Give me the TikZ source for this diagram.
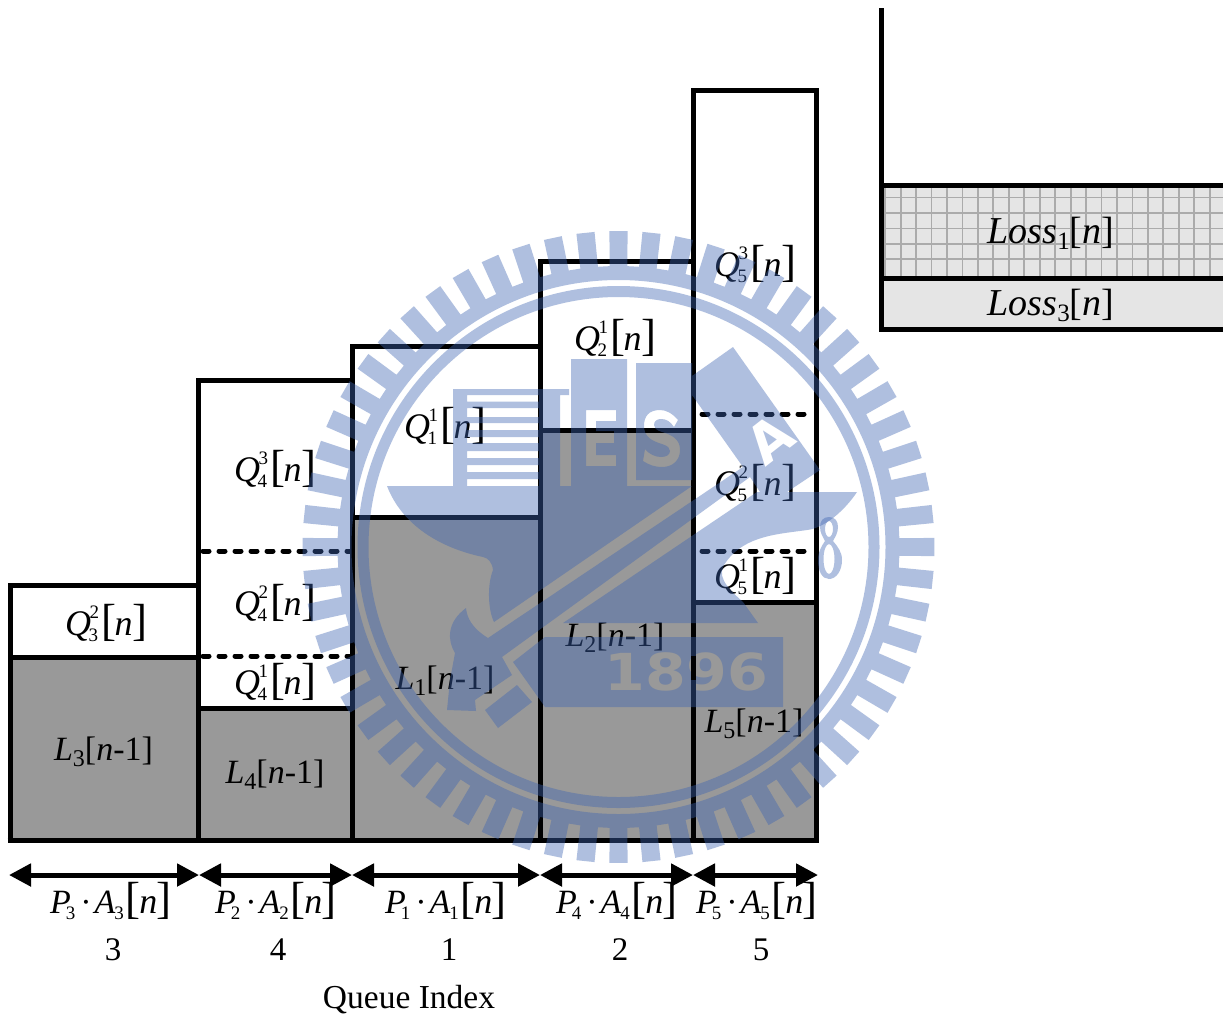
\documentclass[tikz,border=0pt]{standalone}
\usepackage{fontspec}
\setmainfont{Liberation Serif}
\newfontfamily\wmfont{DejaVu Sans}
\usetikzlibrary{arrows.meta}
\definecolor{barfill}{HTML}{999999}
\definecolor{lossfill}{HTML}{E5E5E5}
\definecolor{gridc}{HTML}{ABABAB}
\definecolor{sealc}{RGB}{61,100,178}
\definecolor{navy}{RGB}{25,41,73}
\newcommand\fsz[1]{\fontsize{#1}{#1}\selectfont}
\newcommand\brk[1]{{\fsz{45}\upshape #1}}
\newcommand\nbr{\kern3pt\brk{[}\kern-1.5pt{\fsz{36}\itshape n}\kern-.5pt\brk{]}}
\newcommand\qlab[2]{{\fsz{36}\itshape Q}\kern-2.5pt\rlap{\kern1pt\raisebox{17pt}{\fsz{19}\upshape #1}}\raisebox{-6pt}{\fsz{19}\upshape #2}}
\newcommand\plab[4]{{\fsz{34}\itshape #1}\kern-5pt\raisebox{-6pt}{\fsz{19}\upshape #2}\kern5pt{\fsz{34}\textperiodcentered}\kern3pt{\fsz{34}\itshape #3}\kern-1pt\raisebox{-6pt}{\fsz{19}\upshape #4}\kern-1pt\nbr}
\newcommand\llab[1]{{\fsz{34}\itshape L}\raisebox{-6pt}{\fsz{24}#1}{\fsz{34}[\textit{n}-1]}}
\newcommand\losslab[1]{{\fsz{38}\itshape Loss}\raisebox{-6pt}{\fsz{25}#1}{\fsz{38}[\textit{n}]}}
\tikzset{
  heavy/.style={line width=5pt,line cap=butt,line join=miter},
  dashline/.style={line width=5pt,line cap=round,dash pattern=on 6pt off 10pt},
  barbox/.style={fill=barfill,draw=none},
  lbl/.style={anchor=base,inner sep=0pt,outer sep=0pt},
  span/.style={line width=5pt,{Triangle[length=22pt,width=22pt]}-{Triangle[length=22pt,width=22pt]},shorten <=0pt,shorten >=0pt},
  seal/.style={fill=sealc,opacity=.41,draw=none},
}
\begin{document}
\begin{tikzpicture}[x=1pt,y=-1pt]
\useasboundingbox (0,0) rectangle (1223,1018);
\fill[white] (0,0) rectangle (1223,1018);
% gray bars
\fill[barbox] (10,657) rectangle (198,840);
\fill[barbox] (198,708) rectangle (352,840);
\fill[barbox] (352,517) rectangle (540,840);
\fill[barbox] (540,430) rectangle (693,840);
\fill[barbox] (693,602) rectangle (816,840);
% loss bucket
\fill[lossfill] (881,185) rectangle (1223,329);
\foreach \gx in {0,...,21} \draw[gridc,line width=1.8pt] ({885.2+15.45*\gx},185) -- ({885.2+15.45*\gx},278);
\foreach \gy in {0,...,4} \draw[gridc,line width=1.8pt] (881,{197.5+15.45*\gy}) -- (1223,{197.5+15.45*\gy});
% bar outlines
\draw[heavy] (10,840) -- (10,585) -- (198,585);
\draw[heavy] (10,657) -- (198,657);
\draw[heavy] (198,840) -- (198,380) -- (352,380);
\draw[heavy] (198,708) -- (352,708);
\draw[heavy] (352,840) -- (352,346) -- (540,346);
\draw[heavy] (352,517) -- (540,517);
\draw[heavy] (540,840) -- (540,261) -- (693,261);
\draw[heavy] (540,430) -- (693,430);
\draw[heavy] (693,840) -- (693,90) -- (816,90) -- (816,842.5);
\draw[heavy] (693,602) -- (816,602);
\draw[heavy] (7.5,840) -- (818.5,840);
\draw[dashline] (203,551) -- (350,551);
\draw[dashline] (203,656) -- (350,656);
\draw[dashline] (702,414) -- (813,414);
\draw[dashline] (702,551) -- (813,551);
\draw[heavy] (881,8) -- (881,329) -- (1223,329);
\draw[heavy] (881,185) -- (1223,185);
\draw[heavy] (881,278) -- (1223,278);
% spans
\coordinate (t0) at (9,875); \coordinate (t1) at (199,875); \coordinate (t2) at (352,875);
\coordinate (t3) at (540,875); \coordinate (t4) at (693,875); \coordinate (t5) at (818,875);
\draw[span] (t0) -- (t1); \draw[span] (t1) -- (t2); \draw[span] (t2) -- (t3);
\draw[span] (t3) -- (t4); \draw[span] (t4) -- (t5);
% labels
\node[lbl] (q32) at (106,635) {\qlab{2}{3}\nbr};
\node[lbl] (q43) at (275,481) {\qlab{3}{4}\nbr};
\node[lbl] (q42) at (275,615) {\qlab{2}{4}\nbr};
\node[lbl] (q41) at (275,694) {\qlab{1}{4}\nbr};
\node[lbl] (q11) at (445,438) {\qlab{1}{1}\nbr};
\node[lbl] (q21) at (615,350) {\qlab{1}{2}\nbr};
\node[lbl] (q53) at (755,276) {\qlab{3}{5}\nbr};
\node[lbl] (q52) at (755,495) {\qlab{2}{5}\nbr};
\node[lbl] (q51) at (755,588) {\qlab{1}{5}\nbr};
\node[lbl] (l3) at (103.5,760) {\llab{3}};
\node[lbl] (l4) at (275,783) {\llab{4}};
\node[lbl] (l1) at (445,689) {\llab{1}};
\node[lbl] (l2) at (615,646) {\llab{2}};
\node[lbl] (l5) at (754,732) {\llab{5}};
\node[lbl] (ls1) at (1051,243) {\losslab{1}};
\node[lbl] (ls3) at (1051,315) {\losslab{3}};
\node[lbl] (p3) at (111,913) {\plab{P}{3}{A}{3}};
\node[lbl] (p2) at (276,913) {\plab{P}{2}{A}{2}};
\node[lbl] (p1) at (446,913) {\plab{P}{1}{A}{1}};
\node[lbl] (p4) at (617,913) {\plab{P}{4}{A}{4}};
\node[lbl] (p5) at (757,913) {\plab{P}{5}{A}{5}};
\node[lbl] (i3) at (113,960) {\fsz{33}3};
\node[lbl] (i4) at (278,960) {\fsz{33}4};
\node[lbl] (i1) at (449,960) {\fsz{33}1};
\node[lbl] (i2) at (620,960) {\fsz{33}2};
\node[lbl] (i5) at (761,960) {\fsz{33}5};
\node[lbl] (qi) at (409,1008.5) {\fsz{33.5}Queue Index};
% watermark seal: one even-odd path
\fill[seal,even odd rule]
  ({618.5+281*cos(-1.8)},{547+281*sin(-1.8)})
  \foreach \a in {0,6,...,354} {
    -- ({618.5+281*cos(\a-1.8)},{547+281*sin(\a-1.8)})
    -- ({618.5+316*cos(\a-1.65)},{547+316*sin(\a-1.65)})
    -- ({618.5+316*cos(\a+1.65)},{547+316*sin(\a+1.65)})
    -- ({618.5+281*cos(\a+1.8)},{547+281*sin(\a+1.8)})
  } -- cycle
  (618.5,547) circle (267)
  (618.5,547) circle (261)
  (618.5,547) circle (250)
  % anvil top
  (387,486) -- (692,486) -- (494,622)
    .. controls (488,610) and (487,585) .. (493,570)
    .. controls (492,562) and (488,558) .. (483,557)
    .. controls (440,548) and (402,525) .. (387,486) -- cycle
  % T and stripes
  (453,389) -- (569,389) -- (569,395) -- (560,395) -- (560,486) -- (453,486) -- cycle
  (467,395) rectangle (539,401.7)
  (467,408) rectangle (539,417)
  (467,423) rectangle (539,430)
  (467,437) rectangle (539,443)
  (467,451) rectangle (539,458)
  (467,465) rectangle (539,472)
  (467,479) rectangle (539,486)
  % E block with E
  (571,359) rectangle (627,486)
  (586,410) -- (616,410) -- (616,421) -- (596,421) -- (596,431) -- (614,431) -- (614,443) -- (596,443) -- (596,455) -- (616,455) -- (616,466) -- (586,466) -- cycle
  % S block with S
  (636,363) rectangle (692,480)
  (678,420) .. controls (672,413) and (666,410) .. (660,410)
    .. controls (649,410) and (644,416) .. (644,426)
    .. controls (644,437) and (652,441) .. (662,444)
    .. controls (668,446) and (670,448) .. (670,451)
    .. controls (670,455) and (666,457) .. (661,457)
    .. controls (655,457) and (649,454) .. (645,449)
    -- (643,461)
    .. controls (649,465) and (655,467) .. (662,467)
    .. controls (673,467) and (680,460) .. (680,450)
    .. controls (680,439) and (672,435) .. (662,432)
    .. controls (656,430) and (654,428) .. (654,425)
    .. controls (654,421) and (657,419) .. (661,419)
    .. controls (666,419) and (670,421) .. (674,427) -- cycle
  % hammer, shaft and blade
  (466,608) .. controls (467,618) and (472,628) .. (488,638)
    -- (743,467) -- (692,395) -- (692,376) -- (733,347) -- (820,470) -- (787,492) -- (760,492) -- (750,477)
    -- (502,657) -- (512,675) -- (475,700) -- (476,711) -- (447,710) -- (450,680) -- (455,653)
    .. controls (447,640) and (447,622) .. (466,608) -- cycle
  (517,685) -- (532,702) -- (498,728) -- (485,710) -- cycle
  % anvil lower body
  (563,623) -- (757,492) -- (857,492)
    .. controls (845,510) and (825,528) .. (807,530)
    .. controls (780,534) and (745,535) .. (726,562)
    .. controls (716,575) and (725,586) .. (743,602)
    -- (758,623) -- cycle
  % plate
  (545,637) -- (783,637) -- (783,707) -- (545,707) -- (513,662) -- cycle;
% figure eight
\fill[seal,even odd rule]
  (829,517) .. controls (835,517) and (838,521) .. (838,527)
    .. controls (838,533) and (835,537) .. (833,541)
    .. controls (838,547) and (842,552) .. (842,560)
    .. controls (842,571) and (836,579) .. (829,579)
    .. controls (822,579) and (818,571) .. (818,560)
    .. controls (818,552) and (821,547) .. (825,541)
    .. controls (823,537) and (820,533) .. (820,527)
    .. controls (820,521) and (823,517) .. (829,517) -- cycle
  (829,529) ellipse (4 and 8)
  (829,559) ellipse (5.5 and 15);
% letters knocked out of the seal
\node[text=white,inner sep=0pt,rotate=38] (sealA) at (770,439) {\fsz{54}\wmfont\bfseries A};
\node[text=barfill,inner sep=0pt] (year) at (686.5,671.5) {\scalebox{1.15}[1]{\fsz{51}\wmfont\bfseries 1896}};
\draw[navy,line width=5pt] (693,645) -- (693,700);
\draw[black,line width=5pt] (693,656) -- (693,680);
\end{tikzpicture}
\end{document}
